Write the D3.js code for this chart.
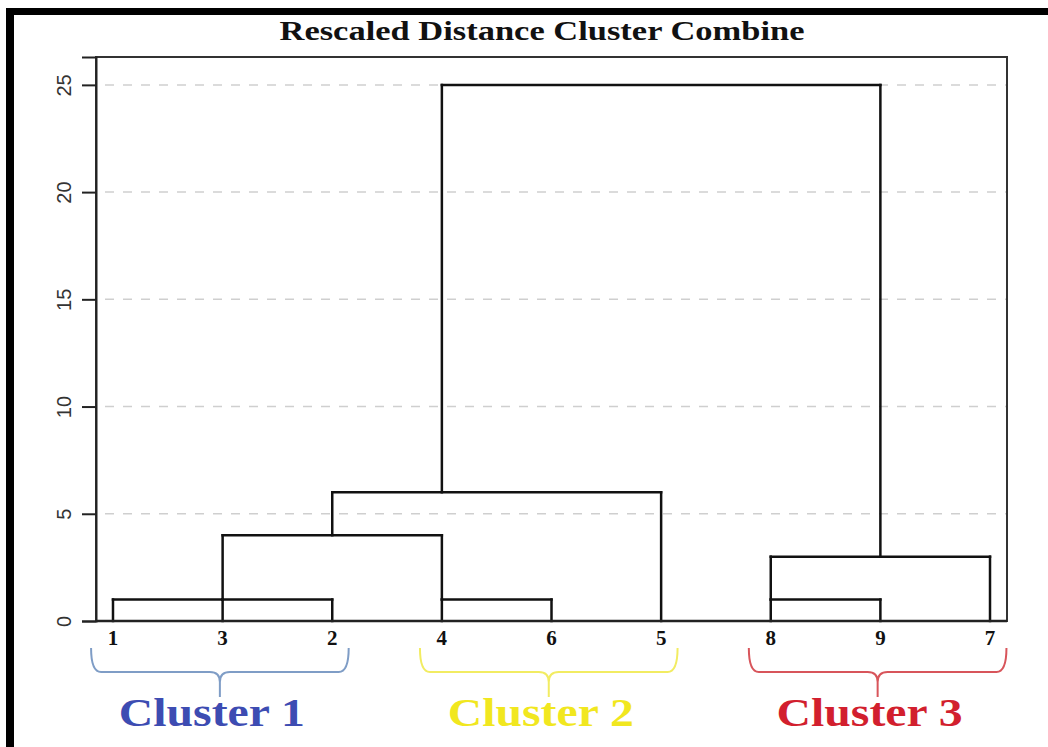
<!DOCTYPE html>
<html>
<head>
<meta charset="utf-8">
<script src="https://cdn.jsdelivr.net/npm/d3@7"></script>
<style>
  html, body { margin: 0; padding: 0; background: #fff; }
  svg { display: block; }
</style>
</head>
<body>
<svg id="chart" width="1048" height="747"></svg>
<script>
// ---- data ----
const title = "Rescaled Distance Cluster Combine";
const leafOrder = ["1", "3", "2", "4", "6", "5", "8", "9", "7"];
const yTicks = [0, 5, 10, 15, 20, 25];
const gridTicks = [5, 10, 15, 20, 25];
// merges: id, left child, right child, merge height, column where the merged stem continues
const mergeIds      = ["M1", "M2", "M3", "M4", "M5", "M6", "M7", "M8"];
const mergeLeft     = ["1",  "M1", "4",  "M2", "M4", "8",  "M6", "M5"];
const mergeRight    = ["2",  "3",  "6",  "M3", "5",  "9",  "7",  "M7"];
const mergeHeight   = [1,    1,    1,    4,    6,    1,    3,    25];
const mergeStemPos  = [2,    2,    4,    3,    4,    7,    8,    6];
const clusterNames  = ["Cluster 1", "Cluster 2", "Cluster 3"];
const clusterLeaves = [["1", "3", "2"], ["4", "6", "5"], ["8", "9", "7"]];
const clusterBraceColors = ["#7f9dc6", "#f2ec62", "#d8555b"];
const clusterTextColors  = ["#3d4cb2", "#f1e71f", "#d21f2e"];

// ---- layout ----
const svg = d3.select("#chart");
const x = d3.scaleLinear().domain([0.845, 9.155]).range([96, 1007]);
const y = d3.scaleLinear().domain([0, 26.3]).range([621, 57]);

// outer black frame (top + left)
svg.append("rect").attr("x", 6).attr("y", 8).attr("width", 1042).attr("height", 7).attr("fill", "#000");
svg.append("rect").attr("x", 6).attr("y", 8).attr("width", 8).attr("height", 739).attr("fill", "#000");

// title
svg.append("text")
  .attr("x", 542).attr("y", 40)
  .attr("text-anchor", "middle")
  .attr("font-family", "Liberation Serif, Times New Roman, serif")
  .attr("font-weight", "bold")
  .attr("font-size", 27)
  .attr("textLength", 525)
  .attr("lengthAdjust", "spacingAndGlyphs")
  .attr("fill", "#111")
  .text(title);

// gridlines
svg.append("g").selectAll("line").data(gridTicks).join("line")
  .attr("x1", x.range()[0] + 9).attr("x2", x.range()[1])
  .attr("y1", d => y(d)).attr("y2", d => y(d))
  .attr("stroke", "#cfcfcf").attr("stroke-width", 1.5)
  .attr("stroke-dasharray", "9,9");

// box
svg.append("rect")
  .attr("x", x.range()[0]).attr("y", y.range()[1])
  .attr("width", x.range()[1] - x.range()[0])
  .attr("height", y.range()[0] - y.range()[1])
  .attr("fill", "none").attr("stroke", "#333").attr("stroke-width", 2);

// y axis
const yAxis = d3.axisLeft(y).tickValues(yTicks).tickSize(14).tickPadding(8);
const gy = svg.append("g").attr("transform", `translate(${x.range()[0]},0)`).call(yAxis);
gy.select(".domain").attr("stroke", "#222").attr("stroke-width", 2);
gy.selectAll(".tick line").attr("stroke", "#222").attr("stroke-width", 2);
gy.selectAll(".tick text")
  .attr("font-family", "Liberation Sans, Arial, sans-serif")
  .attr("font-size", 20)
  .attr("fill", "#333")
  .attr("text-anchor", "middle")
  .attr("dy", null)
  .attr("x", null)
  .attr("transform", "translate(-32,0) rotate(-90)")
  .attr("dominant-baseline", "central");

// dendrogram nodes
const nodes = {};
leafOrder.forEach((l, i) => { nodes[l] = { pos: i + 1, h: 0 }; });
const segs = [];
mergeIds.forEach((id, i) => {
  const L = nodes[mergeLeft[i]], R = nodes[mergeRight[i]], h = mergeHeight[i];
  segs.push([L.pos, L.h, L.pos, h]);
  segs.push([R.pos, R.h, R.pos, h]);
  segs.push([L.pos, h, R.pos, h]);
  nodes[id] = { pos: mergeStemPos[i], h: h };
});
svg.append("g").selectAll("line").data(segs).join("line")
  .attr("x1", d => x(d[0])).attr("y1", d => y(d[1]))
  .attr("x2", d => x(d[2])).attr("y2", d => y(d[3]))
  .attr("stroke", "#111").attr("stroke-width", 2.5)
  .attr("stroke-linecap", "square");

// x axis baseline on top
svg.append("line")
  .attr("x1", x.range()[0]).attr("x2", x.range()[1])
  .attr("y1", y(0)).attr("y2", y(0))
  .attr("stroke", "#222").attr("stroke-width", 2.5);

// leaf labels
svg.append("g").selectAll("text").data(leafOrder).join("text")
  .attr("x", (d, i) => x(i + 1)).attr("y", 645)
  .attr("text-anchor", "middle")
  .attr("font-family", "Liberation Serif, Times New Roman, serif")
  .attr("font-weight", "bold")
  .attr("font-size", 21)
  .attr("fill", "#111")
  .text(d => d);

// cluster braces + labels
const braceTop = 648, braceMid = 672, braceTip = 697, r = 10;
clusterNames.forEach((name, ci) => {
  const ps = clusterLeaves[ci].map(l => nodes[l].pos);
  const x0 = x(d3.min(ps) - 0.2), x1 = x(d3.max(ps) + 0.15), xc = (x0 + x1) / 2;
  const p = d3.path();
  p.moveTo(x0, braceTop);
  p.quadraticCurveTo(x0, braceMid, x0 + r, braceMid);
  p.lineTo(xc - r, braceMid);
  p.quadraticCurveTo(xc, braceMid, xc, braceMid + r);
  p.lineTo(xc, braceTip);
  p.moveTo(xc, braceMid + r);
  p.quadraticCurveTo(xc, braceMid, xc + r, braceMid);
  p.lineTo(x1 - r, braceMid);
  p.quadraticCurveTo(x1, braceMid, x1, braceTop);
  svg.append("path").attr("d", p.toString())
    .attr("fill", "none").attr("stroke", clusterBraceColors[ci]).attr("stroke-width", 2);
  svg.append("text")
    .attr("x", xc - 8).attr("y", 726)
    .attr("text-anchor", "middle")
    .attr("font-family", "Liberation Serif, Times New Roman, serif")
    .attr("font-weight", "bold")
    .attr("font-size", 39)
    .attr("textLength", 186)
    .attr("lengthAdjust", "spacingAndGlyphs")
    .attr("fill", clusterTextColors[ci])
    .text(name);
});
</script>
</body>
</html>
